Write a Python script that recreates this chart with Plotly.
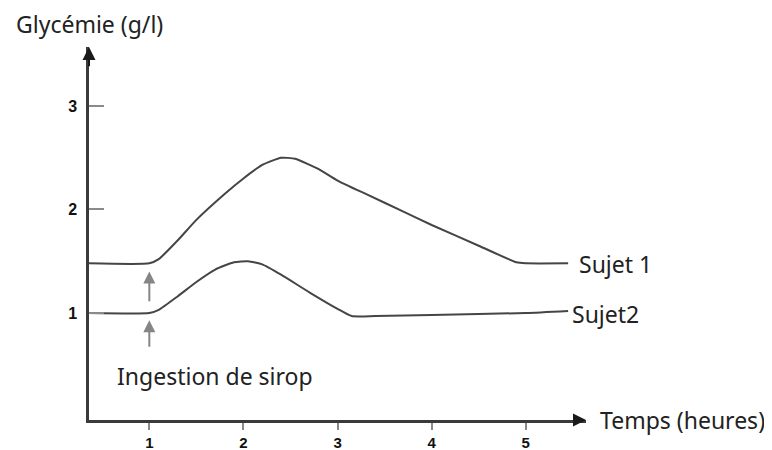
import plotly.graph_objects as go

# Data
s1_x = [0.359, 1.0, 1.1, 1.3, 1.5, 1.8, 2.0, 2.2, 2.4, 2.55, 2.8, 3.0, 3.3, 3.7, 4.0, 4.5, 4.9, 5.0, 5.45]
s1_y = [1.48, 1.48, 1.52, 1.7, 1.9, 2.15, 2.3, 2.43, 2.5, 2.49, 2.39, 2.28, 2.15, 1.98, 1.85, 1.65, 1.49, 1.48, 1.48]
s2_x = [0.359, 1.0, 1.1, 1.3, 1.5, 1.7, 1.9, 2.05, 2.2, 2.4, 2.7, 3.0, 3.15, 3.4, 4.0, 5.0, 5.45]
s2_y = [1.0, 1.0, 1.03, 1.16, 1.3, 1.42, 1.49, 1.5, 1.47, 1.37, 1.2, 1.04, 0.97, 0.97, 0.98, 1.0, 1.02]
x_ticks = [1, 2, 3, 4, 5]
y_ticks = [1, 2, 3]
series_names = ["Sujet 1", "Sujet2"]

X0, X1 = 0.359, 5.64
Y0, Y1 = -0.034, 3.57

fig = go.Figure()
line_style = dict(color="#454545", width=2, shape="spline", smoothing=0.5)
fig.add_trace(go.Scatter(x=s1_x, y=s1_y, mode="lines", line=line_style, name=series_names[0], cliponaxis=False))
fig.add_trace(go.Scatter(x=s2_x, y=s2_y, mode="lines", line=line_style, name=series_names[1], cliponaxis=False))

font_main = "Noto Sans"
tf = dict(family=font_main, size=23, color="#222")
ann = []
# axis arrowheads
ann.append(dict(x=X1, y=Y0, ax=X1 - 0.15, ay=Y0, xref="x", yref="y", axref="x", ayref="y",
                showarrow=True, arrowhead=2, arrowsize=1.3, arrowwidth=2, arrowcolor="#1a1a1a", text=""))
ann.append(dict(x=X0, y=Y1, ax=X0, ay=Y1 - 0.2, xref="x", yref="y", axref="x", ayref="y",
                showarrow=True, arrowhead=2, arrowsize=1.3, arrowwidth=2, arrowcolor="#1a1a1a", text=""))
# ingestion arrows
for (a, b) in [(0.66, 0.93), (1.10, 1.40)]:
    ann.append(dict(x=1, y=b, ax=1, ay=a, xref="x", yref="y", axref="x", ayref="y",
                    showarrow=True, arrowhead=2, arrowsize=1.2, arrowwidth=2, arrowcolor="#858585", text=""))
# texts
ann.append(dict(x=-0.150, y=1.063, xref="paper", yref="paper", xanchor="left", yanchor="middle",
                text="Glycémie (g/l)", showarrow=False, font=tf))
ann.append(dict(x=1.024, y=-0.0013, xref="paper", yref="paper", xanchor="left", yanchor="middle",
                text="Temps (heures)", showarrow=False, font=tf))
ann.append(dict(x=5.545, y=1.478, xref="x", yref="y", xanchor="left", yanchor="middle",
                text=series_names[0], showarrow=False, font=tf))
ann.append(dict(x=5.47, y=0.995, xref="x", yref="y", xanchor="left", yanchor="middle",
                text=series_names[1], showarrow=False, font=tf))
ann.append(dict(x=0.636, y=0.396, xref="x", yref="y", xanchor="left", yanchor="middle",
                text="Ingestion de sirop", showarrow=False, font=tf))

ytickfont = dict(family="Liberation Sans", size=16, color="#111", weight="bold")
xtickfont = dict(family="Liberation Sans", size=15, color="#111", weight="bold")
fig.update_layout(
    template="none",
    width=764, height=442,
    margin=dict(l=81, r=186, t=39, b=30, autoexpand=False),
    paper_bgcolor="white", plot_bgcolor="white",
    showlegend=False,
    annotations=ann,
    xaxis=dict(range=[X0, X1], showgrid=False, zeroline=False, showline=True, linecolor="#3a3a3a", linewidth=2.5,
               automargin=False, mirror=False,
               tickvals=x_ticks, ticktext=[str(v) for v in x_ticks], ticks="outside", ticklen=7, tickwidth=2,
               tickcolor="#8a8a8a", ticklabelstandoff=0, tickfont=xtickfont),
    yaxis=dict(range=[Y0, Y1], showgrid=False, zeroline=False, showline=True, linecolor="#3a3a3a", linewidth=2.5,
               automargin=False, mirror=False,
               tickvals=y_ticks, ticktext=[str(v) for v in y_ticks], ticks="inside", ticklen=15, tickwidth=2,
               tickcolor="#8a8a8a", ticklabelstandoff=6, tickfont=ytickfont),
)

fig.write_html("out.html")
